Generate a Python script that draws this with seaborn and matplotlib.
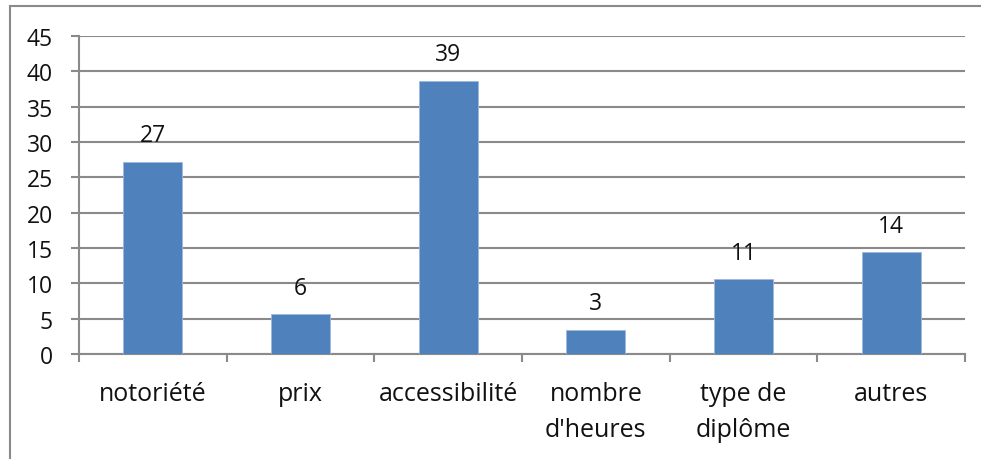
import matplotlib
matplotlib.use("Agg")
import matplotlib.pyplot as plt
import seaborn as sns
import pandas as pd
from matplotlib.patches import Rectangle

categories = ["notoriété", "prix", "accessibilité", "nombre\nd'heures", "type de\ndiplôme", "autres"]
values = [27.2, 5.6, 38.7, 3.4, 10.6, 14.4]
y_ticks = [0, 5, 10, 15, 20, 25, 30, 35, 40, 45]

df = pd.DataFrame({"critere": categories, "valeur": values})

sns.set_theme(style="white")
plt.rcParams["font.family"] = ["Open Sans", "DejaVu Sans"]

fig = plt.figure(figsize=(9.81, 4.60), dpi=100)
ax = fig.add_axes([79 / 981, 105 / 460, (965 - 79) / 981, (355 - 37) / 460])

sns.barplot(data=df, x="critere", y="valeur", color="#4F81BD", width=0.4,
            saturation=1, edgecolor="#9DB9DE", linewidth=0.6, ax=ax, zorder=3)

ax.set_ylim(0, 45)
ax.set_xlim(-0.5, len(categories) - 0.5)
ax.set_yticks(y_ticks)
ax.set_yticklabels([str(t) for t in y_ticks], fontsize=16.5, color="#111111")
ax.yaxis.grid(True, color="#8A8A8A", linewidth=1.5, zorder=0)
ax.set_axisbelow(True)

# category boundaries carry the x ticks
ax.set_xticks([i - 0.5 for i in range(len(categories) + 1)], minor=True)
ax.set_xticks(range(len(categories)))
ax.set_xticklabels(categories, fontsize=18, color="#111111", linespacing=1.6, va="top")
ax.tick_params(axis="x", which="major", length=0, pad=19.5)
ax.tick_params(axis="x", which="minor", length=6, width=1.5, color="#8A8A8A", bottom=True)
ax.tick_params(axis="y", length=5.8, width=1.5, color="#8A8A8A", left=True, pad=13)

for side in ["top", "right"]:
    ax.spines[side].set_visible(False)
for side in ["left", "bottom"]:
    ax.spines[side].set_color("#8A8A8A")
    ax.spines[side].set_linewidth(1.5)

ax.set_xlabel("")
ax.set_ylabel("")

for i, v in enumerate(values):
    ax.annotate(f"{round(v)}", (i, v), xytext=(0, 10.5), textcoords="offset points",
                ha="center", va="bottom", fontsize=16.5, color="#111111")

# chart area frame
fig.patches.append(Rectangle((10 / 981, -0.1), 1.2, (460 - 7) / 460 + 0.1,
                             transform=fig.transFigure, fill=False,
                             edgecolor="#8A8A8A", linewidth=1.5))

fig.savefig("out.png", dpi=100)
